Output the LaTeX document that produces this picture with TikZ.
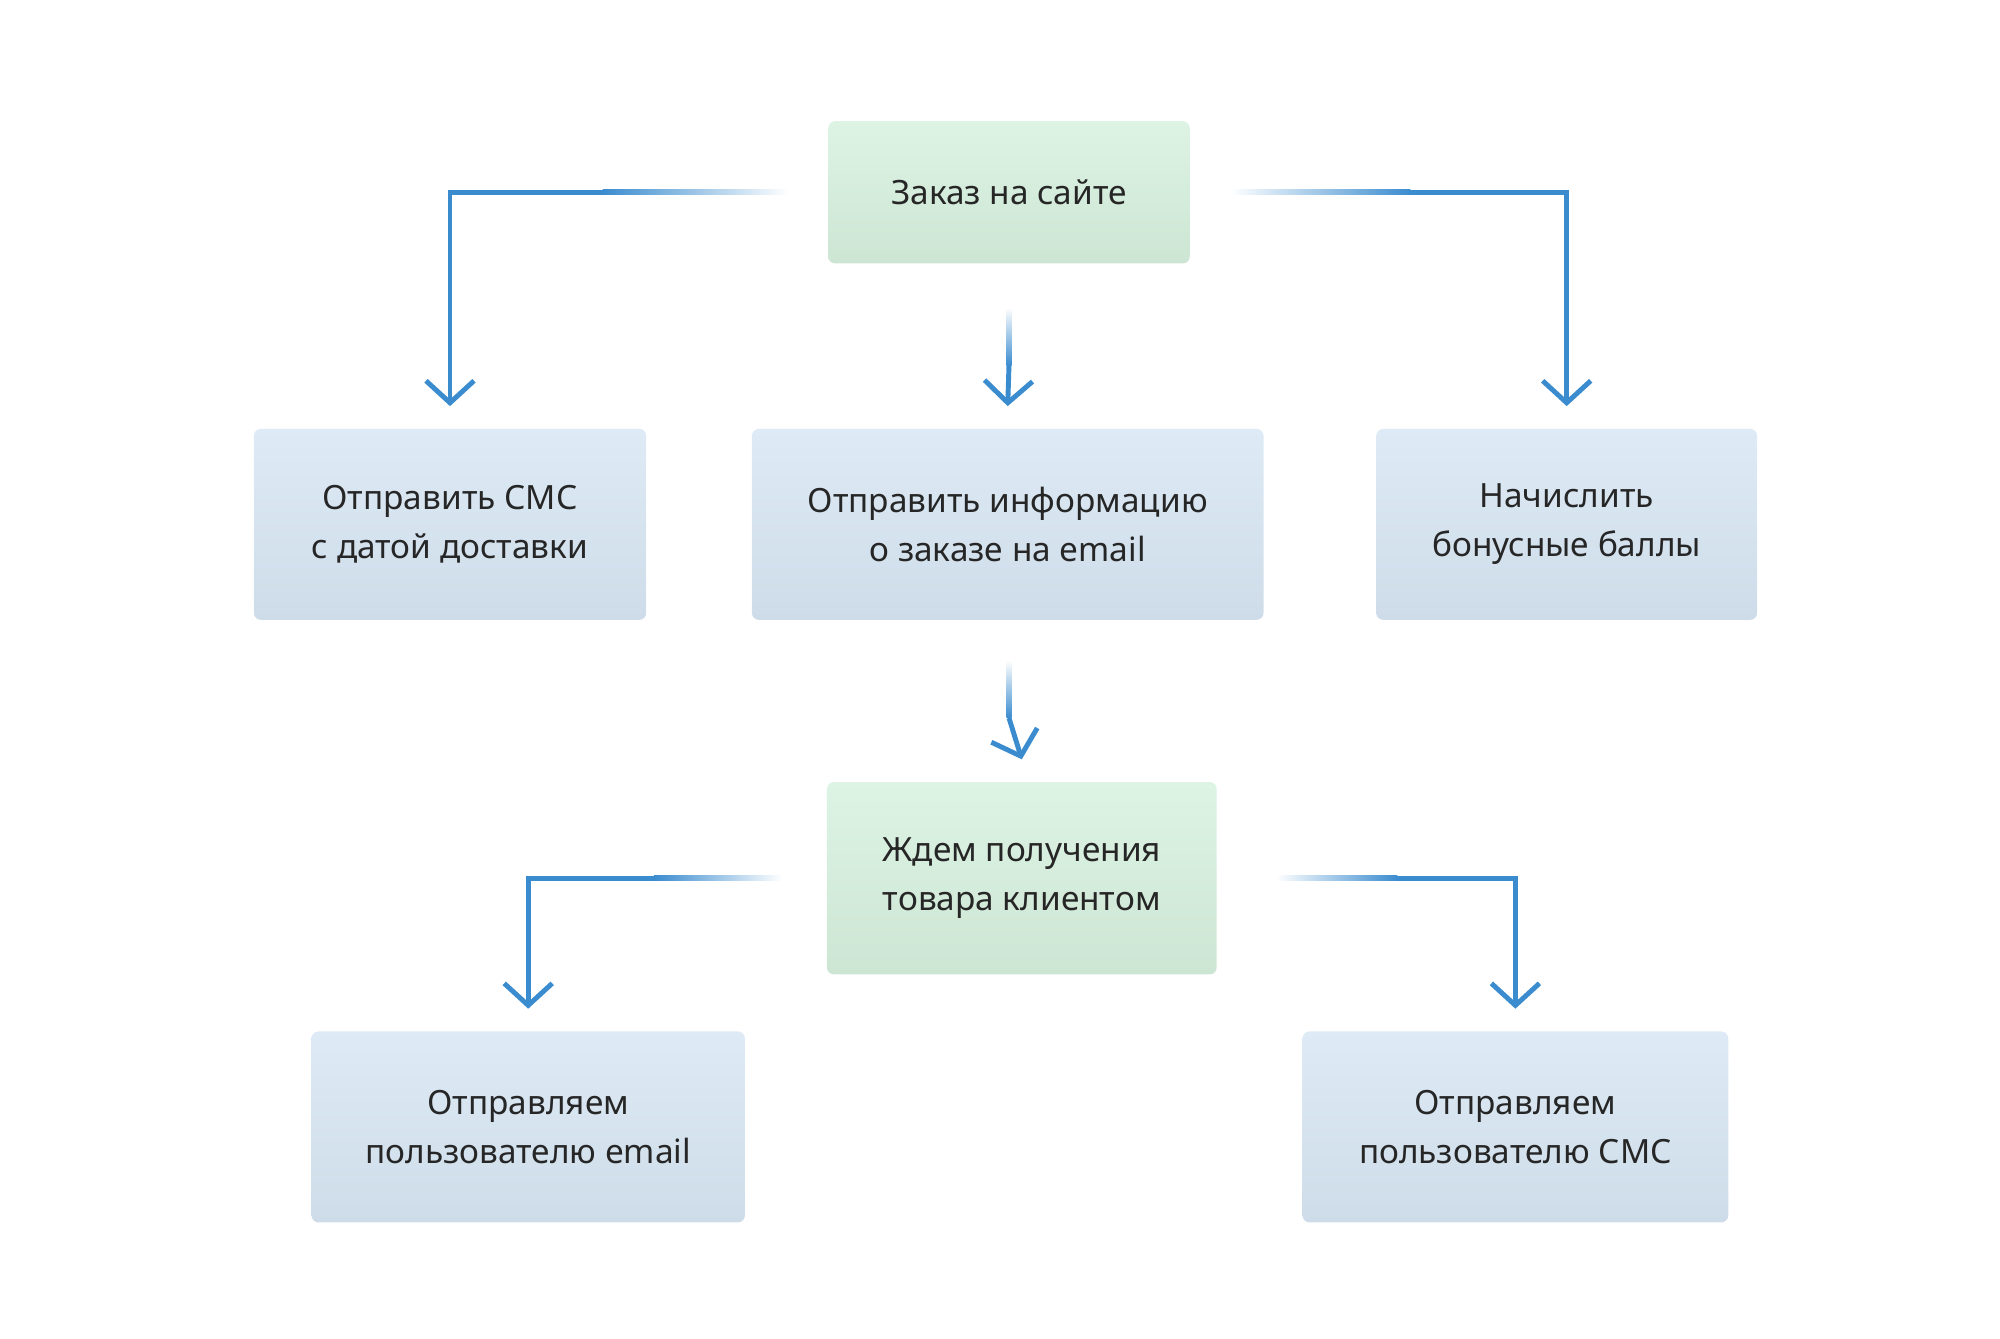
\documentclass[tikz,border=0pt]{standalone}
\usepackage{fontspec}
\setmainfont{Noto Sans}
\usetikzlibrary{arrows.meta}
\definecolor{ab}{HTML}{3B8CCF}
\definecolor{bt}{HTML}{DEEBF6}
\definecolor{bb}{HTML}{CEDCE9}
\definecolor{gt}{HTML}{DDF4E5}
\definecolor{gb}{HTML}{CDE5D3}
\begin{document}
\begin{tikzpicture}[x=0.01282cm,y=-0.01282cm,
 box/.style={rectangle,rounded corners=2pt,align=center,font=\fontsize{9.5}{14}\selectfont,text=black!85,minimum height=1.91cm,top color=bt,bottom color=bb,draw=none,inner sep=0pt},
 gbox/.style={box,top color=gt,bottom color=gb},
 arr/.style={draw=ab,line width=1.4pt,-{Straight Barb[length=2.2mm,width=4.8mm,line width=1.4pt]}},
 fh/.style={line width=0pt}]
\useasboundingbox (0,0) rectangle (1560,1044);
\node[gbox,minimum width=3.615cm,minimum height=1.423cm] (a) at (787,150) {Заказ на сайте};
\node[box,minimum width=3.923cm] (l) at (351,409) {Отправить СМС\\с датой доставки};
\node[box,minimum width=5.115cm] (m) at (786,409) {Отправить информацию\\о заказе на email};
\node[box,minimum width=3.808cm] (r) at (1222,409) {Начислить\\бонусные баллы};
\node[gbox,minimum width=3.897cm,minimum height=1.923cm] (w) at (797,685) {Ждем получения\\товара клиентом};
\node[box,minimum width=4.333cm] (bl) at (412,879) {Отправляем\\пользователю email};
\node[box,minimum width=4.256cm] (br) at (1182,879) {Отправляем\\пользователю СМС};
% top-left
\coordinate (c1) at (470,150);
\shade[left color=ab,right color=white] (470,148) rectangle (615,152);
\draw[arr] (c1) -| ([yshift=0.22cm]l.north);
% top-right
\coordinate (c2) at (1100,150);
\shade[left color=white,right color=ab] (960,148) rectangle (1100,152);
\draw[arr] (c2) -| ([yshift=0.22cm]r.north);
% top-middle
\coordinate (c3) at (787,285);
\shade[top color=white,bottom color=ab] (785,240) rectangle (789,285);
\draw[arr] (c3) -- ([yshift=0.22cm]m.north);
% mid to wait
\coordinate (c4) at (787,560);
\shade[top color=white,bottom color=ab] (785,515) rectangle (789,560);
\draw[arr] (c4) -- ([yshift=0.22cm]w.north);
% wait left
\coordinate (c5) at (510,685);
\shade[left color=ab,right color=white] (510,683) rectangle (610,687);
\draw[arr] (c5) -| ([yshift=0.22cm]bl.north);
% wait right
\coordinate (c6) at (1090,685);
\shade[left color=white,right color=ab] (995,683) rectangle (1090,687);
\draw[arr] (c6) -| ([yshift=0.22cm]br.north);
\end{tikzpicture}
\end{document}
